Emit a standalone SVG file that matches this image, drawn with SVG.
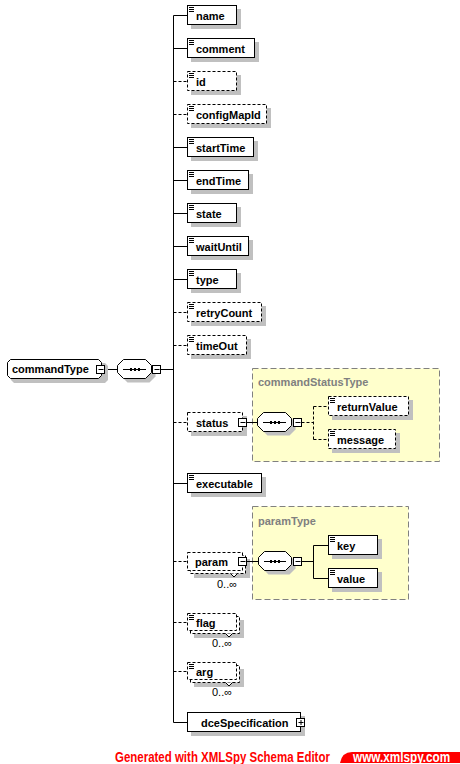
<svg xmlns="http://www.w3.org/2000/svg" xmlns:xlink="http://www.w3.org/1999/xlink" width="460" height="764" viewBox="0 0 460 764">
<style>
.b{fill:#fff;stroke:#000;stroke-width:1}
.o{fill:#fff;stroke:#000;stroke-width:1;stroke-dasharray:3,2}
.s{fill:#c0c0c0}
.t{font-family:"Liberation Sans",Arial,sans-serif;font-weight:bold;font-size:11px;fill:#000}
.m{font-family:"Liberation Sans",Arial,sans-serif;font-size:11px;fill:#000}
.c{stroke:#000;stroke-width:1;fill:none}
.d{stroke:#000;stroke-width:1;fill:none;stroke-dasharray:3,2}
.y{fill:#ffffcc;stroke:#808080;stroke-width:1;stroke-dasharray:6,3}
.yt{font-family:"Liberation Sans",Arial,sans-serif;font-weight:bold;font-size:11px;fill:#808080}
.f{font-family:"Liberation Sans",Arial,sans-serif;font-weight:bold;font-size:14px}
</style>
<defs>
<path id="ic" d="M0 0.5h5M0 2.5h5M0 4.5h5" stroke="#000" stroke-width="1" fill="none"/>
<g id="mi"><rect x="-4" y="-4" width="8" height="8" fill="#fff" stroke="#000"/><path d="M-2 0h5" stroke="#000"/></g>
<g id="pl"><rect x="-4" y="-4" width="8" height="8" fill="#fff" stroke="#000"/><path d="M-2 0h5M0.5 -2.5v5" stroke="#000"/></g>
</defs>

<g id="connectors">
<path class="c" d="M173.5 15.5V722.5"/>
<path class="c" d="M104.5 369.5H117.5M160.5 369.5H173.5"/>
<path class="c" d="M173.5 15.5H187.5M173.5 48.5H187.5M173.5 147.5H187.5M173.5 180.5H187.5M173.5 213.5H187.5M173.5 246.5H187.5M173.5 279.5H187.5M173.5 483.5H187.5M173.5 722.5H187.5"/>
<path class="d" d="M173.5 81.5H187.5M173.5 114.5H187.5M173.5 312.5H187.5M173.5 345.5H187.5M173.5 422.5H187.5M173.5 561.5H187.5M173.5 622.5H187.5M173.5 671.5H187.5"/>
</g>

<g id="commandType">
<polygon class="s" points="14,363 105,363 108,366 108,380 105,383 14,383 11,380 11,366"/>
<polygon class="b" points="10.5,359.5 98.5,359.5 101.5,362.5 101.5,375.5 98.5,378.5 10.5,378.5 7.5,375.5 7.5,362.5"/>
<text class="t" x="12" y="373">commandType</text>
<use xlink:href="#mi" x="100.5" y="369.5"/>
</g>

<g id="sequence">
<polygon class="s" points="127.5,363.5 149.5,363.5 155.5,369.5 155.5,376.5 149.5,382.5 127.5,382.5 121.5,376.5 121.5,369.5"/>
<polygon class="b" points="123.5,359.5 145.5,359.5 151.5,365.5 151.5,372.5 145.5,378.5 123.5,378.5 117.5,372.5 117.5,365.5"/>
<path class="c" d="M123 369.5H146"/>
<rect x="130" y="368" width="2" height="3"/><rect x="134" y="368" width="2" height="3"/><rect x="138" y="368" width="2" height="3"/>
<use xlink:href="#mi" x="156.5" y="369.5"/>
</g>

<g id="name"><rect class="s" x="191" y="9" width="50" height="20"/><rect class="b" x="187.5" y="5.5" width="49" height="19"/><use xlink:href="#ic" x="189" y="7"/><text class="t" x="196" y="19.5">name</text></g>
<g id="comment"><rect class="s" x="191" y="42" width="68" height="20"/><rect class="b" x="187.5" y="38.5" width="67" height="19"/><use xlink:href="#ic" x="189" y="40"/><text class="t" x="196" y="52.5">comment</text></g>
<g id="id"><rect class="s" x="191" y="75" width="50" height="20"/><rect class="o" x="187.5" y="71.5" width="49" height="19"/><use xlink:href="#ic" x="189" y="73"/><text class="t" x="196" y="85.5">id</text></g>
<g id="configMapId"><rect class="s" x="191" y="108" width="80" height="20"/><rect class="o" x="187.5" y="104.5" width="79" height="19"/><use xlink:href="#ic" x="189" y="106"/><text class="t" x="196" y="118.5">configMapId</text></g>
<g id="startTime"><rect class="s" x="191" y="141" width="67" height="20"/><rect class="b" x="187.5" y="137.5" width="66" height="19"/><use xlink:href="#ic" x="189" y="139"/><text class="t" x="196" y="151.5">startTime</text></g>
<g id="endTime"><rect class="s" x="191" y="174" width="62" height="20"/><rect class="b" x="187.5" y="170.5" width="61" height="19"/><use xlink:href="#ic" x="189" y="172"/><text class="t" x="196" y="184.5">endTime</text></g>
<g id="state"><rect class="s" x="191" y="207" width="50" height="20"/><rect class="b" x="187.5" y="203.5" width="49" height="19"/><use xlink:href="#ic" x="189" y="205"/><text class="t" x="196" y="217.5">state</text></g>
<g id="waitUntil"><rect class="s" x="191" y="240" width="62" height="20"/><rect class="b" x="187.5" y="236.5" width="61" height="19"/><use xlink:href="#ic" x="189" y="238"/><text class="t" x="196" y="250.5">waitUntil</text></g>
<g id="type"><rect class="s" x="191" y="273" width="50" height="20"/><rect class="b" x="187.5" y="269.5" width="49" height="19"/><use xlink:href="#ic" x="189" y="271"/><text class="t" x="196" y="283.5">type</text></g>
<g id="retryCount"><rect class="s" x="191" y="306" width="75" height="20"/><rect class="o" x="187.5" y="302.5" width="74" height="19"/><use xlink:href="#ic" x="189" y="304"/><text class="t" x="196" y="316.5">retryCount</text></g>
<g id="timeOut"><rect class="s" x="191" y="339" width="60" height="20"/><rect class="o" x="187.5" y="335.5" width="59" height="19"/><use xlink:href="#ic" x="189" y="337"/><text class="t" x="196" y="349.5">timeOut</text></g>

<g id="commandStatusType">
<rect class="y" x="252.5" y="368.5" width="187" height="93"/>
<text class="yt" x="258" y="386">commandStatusType</text>
</g>

<g id="status">
<rect class="s" x="191" y="416" width="56" height="20"/><rect class="o" x="187.5" y="412.5" width="55" height="19"/>
<text class="t" x="196" y="426.5">status</text>
<use xlink:href="#mi" x="242.5" y="422.5"/>
<path class="c" d="M246.5 422.5H257.5"/>
</g>

<g id="statusSequence">
<polygon class="s" points="267.5,416.5 289.5,416.5 295.5,422.5 295.5,429.5 289.5,435.5 267.5,435.5 261.5,429.5 261.5,422.5"/>
<polygon class="b" points="263.5,412.5 285.5,412.5 291.5,418.5 291.5,425.5 285.5,431.5 263.5,431.5 257.5,425.5 257.5,418.5"/>
<path class="c" d="M263 422.5H286"/>
<rect x="270" y="421" width="2" height="3"/><rect x="274" y="421" width="2" height="3"/><rect x="278" y="421" width="2" height="3"/>
<use xlink:href="#mi" x="297.5" y="422.5"/>
<path class="d" d="M301.5 422.5H313.5M313.5 406.5V439.5M313.5 406.5H328.5M313.5 439.5H328.5"/>
</g>

<g id="returnValue"><rect class="s" x="332" y="400" width="81" height="20"/><rect class="o" x="328.5" y="396.5" width="80" height="19"/><use xlink:href="#ic" x="330" y="398"/><text class="t" x="337" y="410.5">returnValue</text></g>
<g id="message"><rect class="s" x="332" y="433" width="68" height="20"/><rect class="o" x="328.5" y="429.5" width="67" height="19"/><use xlink:href="#ic" x="330" y="431"/><text class="t" x="337" y="443.5">message</text></g>

<g id="executable"><rect class="s" x="191" y="477" width="75" height="20"/><rect class="b" x="187.5" y="473.5" width="74" height="19"/><use xlink:href="#ic" x="189" y="475"/><text class="t" x="196" y="487.5">executable</text></g>

<g id="paramType">
<rect class="y" x="252.5" y="506.5" width="156" height="93"/>
<text class="yt" x="258" y="525">paramType</text>
</g>

<g id="param">
<rect class="s" x="194" y="559" width="56" height="19"/>
<rect class="o" x="190.5" y="555.5" width="55" height="18"/>
<path d="M230.5 573.5L234 577L237.5 573.5" fill="#fff" stroke="#000"/>
<rect class="o" x="187.5" y="552.5" width="55" height="18"/>
<text class="t" x="195" y="565.5">param</text>
<use xlink:href="#mi" x="242.5" y="561.5"/>
<path class="c" d="M246.5 561.5H258.5"/>
<text class="m" x="217" y="588">0..∞</text>
</g>

<g id="paramSequence">
<polygon class="s" points="268.5,555.5 289.5,555.5 295.5,561.5 295.5,568.5 289.5,574.5 268.5,574.5 262.5,568.5 262.5,561.5"/>
<polygon class="b" points="264.5,551.5 285.5,551.5 291.5,557.5 291.5,564.5 285.5,570.5 264.5,570.5 258.5,564.5 258.5,557.5"/>
<path class="c" d="M264 561.5H286"/>
<rect x="270" y="560" width="2" height="3"/><rect x="274" y="560" width="2" height="3"/><rect x="278" y="560" width="2" height="3"/>
<use xlink:href="#mi" x="297.5" y="561.5"/>
<path class="c" d="M301.5 561.5H313.5M313.5 545.5V578.5M313.5 545.5H328.5M313.5 578.5H328.5"/>
</g>

<g id="key"><rect class="s" x="332" y="539" width="50" height="20"/><rect class="b" x="328.5" y="535.5" width="49" height="19"/><use xlink:href="#ic" x="330" y="537"/><text class="t" x="337" y="549.5">key</text></g>
<g id="value"><rect class="s" x="332" y="572" width="50" height="20"/><rect class="b" x="328.5" y="568.5" width="49" height="19"/><use xlink:href="#ic" x="330" y="570"/><text class="t" x="337" y="582.5">value</text></g>

<g id="flag">
<rect class="s" x="194" y="620" width="50" height="18"/>
<rect class="o" x="190.5" y="616.5" width="49" height="17"/>
<path d="M225.5 633.5L229 637L232.5 633.5" fill="#fff" stroke="#000"/>
<rect class="o" x="187.5" y="613.5" width="49" height="17"/>
<use xlink:href="#ic" x="189" y="615"/>
<text class="t" x="196" y="626.5">flag</text>
<text class="m" x="212" y="647">0..∞</text>
</g>

<g id="arg">
<rect class="s" x="194" y="669" width="50" height="18"/>
<rect class="o" x="190.5" y="665.5" width="49" height="17"/>
<path d="M225.5 682.5L229 686L232.5 682.5" fill="#fff" stroke="#000"/>
<rect class="o" x="187.5" y="662.5" width="49" height="17"/>
<use xlink:href="#ic" x="189" y="664"/>
<text class="t" x="196" y="675.5">arg</text>
<text class="m" x="212" y="696">0..∞</text>
</g>

<g id="dceSpecification">
<rect class="s" x="191" y="716" width="114" height="20"/>
<rect class="b" x="187.5" y="712.5" width="113" height="19"/>
<text class="t" x="201" y="726.5">dceSpecification</text>
<use xlink:href="#pl" x="300.5" y="722.5"/>
</g>

<g id="footer">
<text class="f" transform="translate(115,762) scale(0.82,1)" x="0" y="0" fill="#ff0000">Generated with XMLSpy Schema Editor</text>
<path d="M340 763Q342 752 352 752H460V763Z" fill="#ff0000"/>
<text class="f" transform="translate(353,762) scale(0.84,1)" x="0" y="0" fill="#ffffff" font-size="13">www.xmlspy.com</text>
</g>
</svg>
